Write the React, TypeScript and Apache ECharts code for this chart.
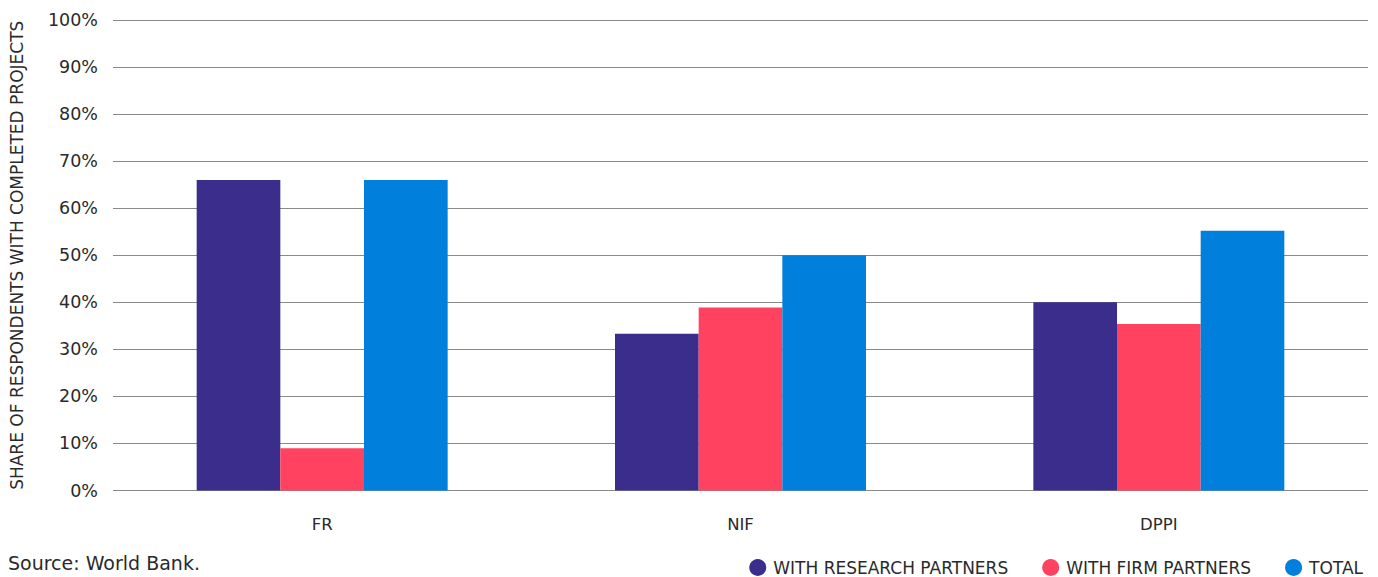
import React, { useEffect, useRef } from "react";
import * as echarts from "echarts";

const categories = ["FR", "NIF", "DPPI"];
const researchPartners = [66, 33.3, 40];
const firmPartners = [9, 38.9, 35.4];
const total = [66, 50, 55.2];
const seriesNames = ["WITH RESEARCH PARTNERS", "WITH FIRM PARTNERS", "TOTAL"];
const colors = ["#3a2d8c", "#ff425f", "#0080dc"];
const yAxisTitle = "SHARE OF RESPONDENTS WITH COMPLETED PROJECTS";
const sourceNote = "Source: World Bank.";

const FONT = "'DejaVu Sans', 'Noto Sans', sans-serif";
const INK = "#2a2a2a";

export default function App() {
  const ref = useRef<HTMLDivElement>(null);

  useEffect(() => {
    if (!ref.current) return;
    const chart = echarts.init(ref.current, undefined, { renderer: "svg" });
    const values = [researchPartners, firmPartners, total];
    chart.setOption({
      animation: false,
      backgroundColor: "#ffffff",
      textStyle: { fontFamily: FONT },
      grid: { left: 113, right: 10, top: 20, bottom: 86.5, containLabel: false },
      legend: {
        right: 10,
        bottom: -4,
        icon: "circle",
        itemWidth: 17,
        itemHeight: 17,
        itemGap: 34,
        textStyle: { fontFamily: FONT, fontSize: 17, color: INK, padding: [0, 0, 0, 2] },
        data: seriesNames,
      },
      xAxis: {
        type: "category",
        data: categories,
        axisLine: { show: false },
        axisTick: { show: false },
        axisLabel: { fontFamily: FONT, fontSize: 16.5, color: INK, margin: 25 },
      },
      yAxis: {
        type: "value",
        min: 0,
        max: 100,
        interval: 10,
        name: yAxisTitle,
        nameLocation: "middle",
        nameRotate: 90,
        nameGap: 88,
        nameTextStyle: { fontFamily: FONT, fontSize: 17, color: INK },
        axisLine: { show: false },
        axisTick: { show: false },
        axisLabel: {
          formatter: "{value}%",
          fontFamily: FONT,
          fontSize: 17.5,
          color: INK,
          margin: 15,
        },
        splitLine: { lineStyle: { color: "#8a8a8a", width: 1.2 } },
      },
      series: seriesNames.map((name, i) => ({
        name,
        type: "bar",
        data: values[i],
        barGap: "0%",
        barCategoryGap: "40%",
        itemStyle: { color: colors[i] },
      })),
      graphic: [
        {
          type: "text",
          left: 8,
          bottom: 5,
          style: { text: sourceNote, fontFamily: FONT, fontSize: 19, fill: INK },
        },
      ],
    });
    return () => chart.dispose();
  }, []);

  return (
    <div
      ref={ref}
      style={{ position: "fixed", left: 0, top: 0, width: 1378, height: 577 }}
    />
  );
}
